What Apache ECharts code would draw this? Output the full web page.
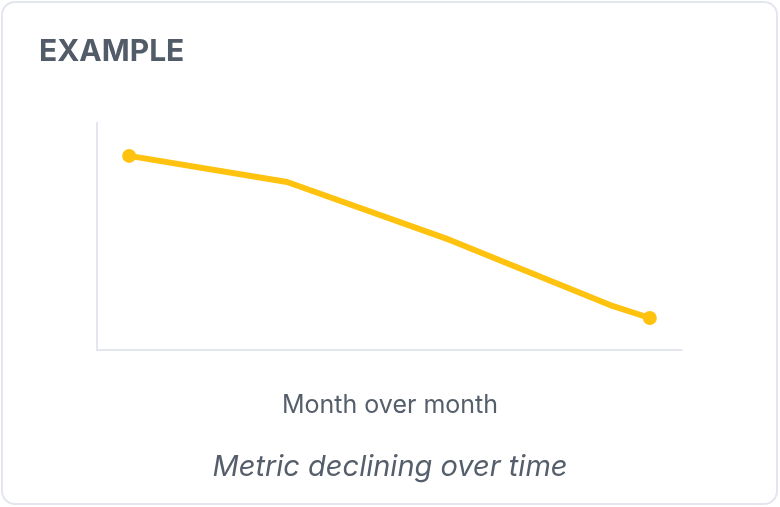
<!DOCTYPE html>
<html><head><meta charset="utf-8">
<script src="https://cdn.jsdelivr.net/npm/echarts@6/dist/echarts.min.js"></script>
<style>html,body{margin:0;padding:0;background:#fff}
#card{position:absolute;left:1px;top:1px;width:777px;height:504px;border:2px solid #e3e6ec;border-radius:14px;box-sizing:border-box}
#c{position:absolute;left:0;top:0;width:780px;height:507px}</style></head>
<body><div id="card"></div><div id="c"></div>
<script>
const xValues=[5.5,32.5,60.3,87.7,94.5];
const yValues=[85.5,74,48.5,19.8,14.1];
const title="EXAMPLE", xLabel="Month over month", caption="Metric declining over time";
const ch=echarts.init(document.getElementById('c'));
const data=xValues.map((x,i)=>({value:[x,yValues[i]],symbolSize:(i===0||i===xValues.length-1)?14:0}));
ch.setOption({
 animation:false,
 grid:{left:97,right:98,top:123,bottom:157},
 xAxis:{type:'value',min:0,max:100,axisLine:{show:true,lineStyle:{color:'#e3e6ee',width:2}},axisTick:{show:false},axisLabel:{show:false},splitLine:{show:false}},
 yAxis:{type:'value',min:0,max:100,axisLine:{show:true,lineStyle:{color:'#e3e6ee',width:2}},axisTick:{show:false},axisLabel:{show:false},splitLine:{show:false}},
 series:[{type:'line',data:data,symbol:'circle',lineStyle:{color:'#FFC20E',width:6},itemStyle:{color:'#FFC20E'}}],
 graphic:[
  {type:'text',left:39,top:37,style:{text:title,font:'bold 30px Inter, sans-serif',fill:'#515c68',letterSpacing:2.5}},
  {type:'text',left:'center',top:393,style:{text:xLabel,font:'25px Inter, sans-serif',fill:'#555f6b'}},
  {type:'text',left:'center',top:453,style:{text:caption,font:'italic 29px Inter, sans-serif',fill:'#555f6b'}}
 ]
});
</script></body></html>
